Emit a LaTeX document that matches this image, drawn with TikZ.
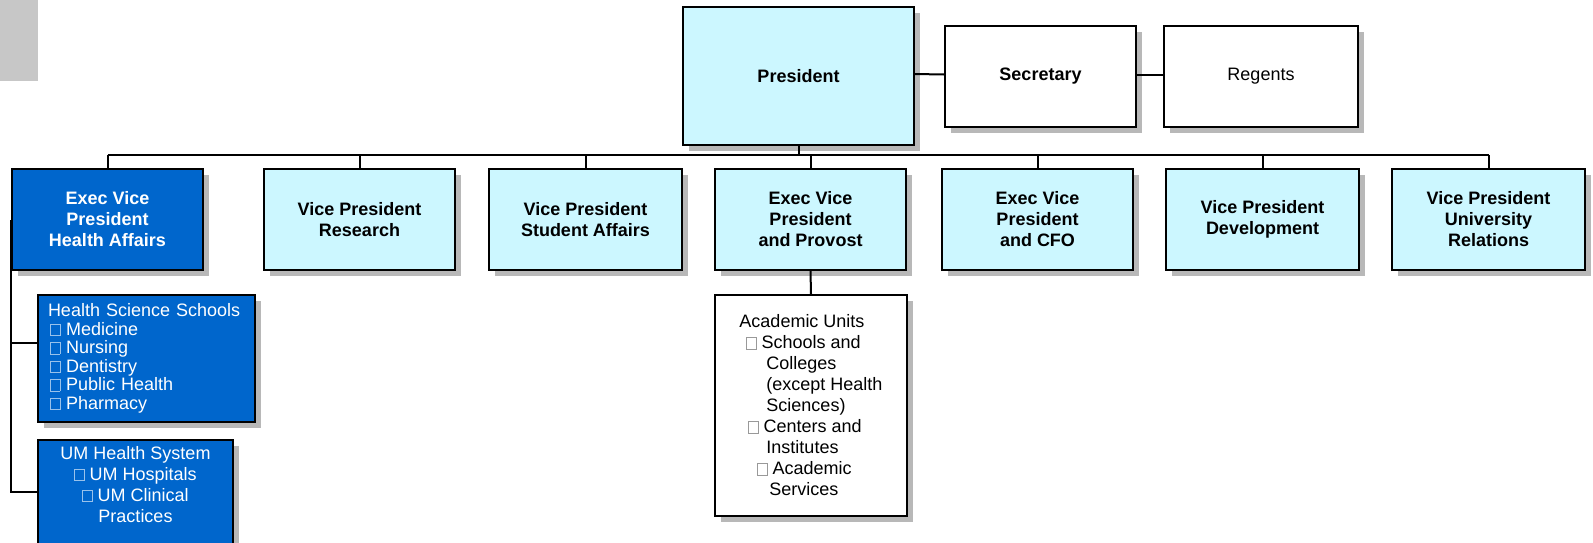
\documentclass[tikz,border=0pt]{standalone}
\usepackage{fontspec}
\setmainfont{Liberation Sans}
\usetikzlibrary{shadows}
\definecolor{vpcyan}{RGB}{204,247,255}
\definecolor{hsblue}{RGB}{0,102,204}
\newcommand{\sqbullet}[1][black!40]{\textcolor{#1}{\setlength{\fboxsep}{0pt}\setlength{\fboxrule}{0.6pt}\fbox{\rule{0pt}{0.62em}\hspace{0.5em}}}}

\begin{document}
\begin{tikzpicture}[x=1pt,y=-1pt]
        \tikzset{orgbox/.style={draw, line width=1.6pt, minimum width=191pt, minimum height=101pt,
                align=center, inner sep=0pt, font=\fontsize{18}{21}\selectfont\bfseries,
                drop shadow={shadow xshift=6pt, shadow yshift=-6pt, fill=black!28, opacity=1}},
            vpbox/.style={orgbox, fill=vpcyan},
            plainbox/.style={orgbox, fill=white},
            healthbox/.style={orgbox, fill=hsblue, text=white},
            plaintext/.style={font=\fontsize{18}{21}\selectfont},
            orgline/.style={line width=2pt}}
        \useasboundingbox (0,0) rectangle (1593,542);
        \fill[black!22] (0,0) rectangle (38,81);
        \node[vpbox, minimum width=231pt, minimum height=138pt] (pres) at (798.5,76) {President};
        \node[plainbox] (sec) at (1040.5,76.5) {Secretary};
        \node[plainbox, plaintext, minimum width=194pt] (reg) at (1261,76.5) {Regents};
        \node[healthbox] (evpha) at (107.5,219.5) {Exec Vice\\President\\Health Affairs};
        \node[vpbox] (vpres) at (359.5,219.5) {Vice President\\Research};
        \node[vpbox, minimum width=193pt] (vpsa) at (585.5,219.5) {Vice President\\Student Affairs};
        \node[vpbox] (evpp) at (810.5,219.5) {Exec Vice\\President\\and Provost};
        \node[vpbox] (evpcfo) at (1037.5,219.5) {Exec Vice\\President\\and CFO};
        \node[vpbox, minimum width=193pt] (vpdev) at (1262.5,219.5) {Vice President\\Development};
        \node[vpbox, minimum width=193pt] (vpur) at (1488.5,219.5) {Vice President\\University\\Relations};
        \node[plainbox, plaintext, minimum width=192pt, minimum height=221pt, align=left] (acad) at (811,405.5)
            {Academic Units\\\hspace*{7pt}\sqbullet\ Schools and\\\hspace*{27pt}Colleges\\
             \hspace*{27pt}(except Health\\\hspace*{27pt}Sciences)\\\hspace*{9pt}\sqbullet\ Centers and\\
             \hspace*{27pt}Institutes\\\hspace*{18pt}\sqbullet\ Academic\\\hspace*{30pt}Services};
        \node[healthbox, font=\fontsize{18}{18.5}\selectfont, minimum width=217pt, minimum height=127pt,
            text width=197pt, align=left] (hss) at (146.5,358.5)
            {Health Science Schools\\\hspace*{2pt}\sqbullet[hsblue!40!white]\ Medicine\\
             \hspace*{2pt}\sqbullet[hsblue!40!white]\ Nursing\\\hspace*{2pt}\sqbullet[hsblue!40!white]\ Dentistry\\
             \hspace*{2pt}\sqbullet[hsblue!40!white]\ Public Health\\\hspace*{2pt}\sqbullet[hsblue!40!white]\ Pharmacy};
        \node[healthbox, minimum width=195pt, minimum height=104pt,
            label={[anchor=north, yshift=-7pt, inner sep=0pt, align=center, text=white, plaintext]north:{UM Health System\\
                \sqbullet[hsblue!40!white]\ UM Hospitals\\\sqbullet[hsblue!40!white]\ UM Clinical\\Practices}}]
            (umhs) at (135.5,492) {};
        \coordinate (bus) at (0,154.5);
        \draw[orgline] ([yshift=2pt]pres.east) -- ([yshift=2pt]sec.west);
        \draw[orgline] ([yshift=2pt]sec.east) -- ([yshift=2pt]reg.west);
        \draw[orgline] (pres.south) -- (pres.south |- bus);
        \draw[orgline] (evpha.north |- bus) -- (vpur.north |- bus);
        \foreach \n in {evpha,vpres,vpsa,evpp,evpcfo,vpdev,vpur}
            \draw[orgline] (\n.north) -- (\n.north |- bus);
        \draw[orgline] (evpp.south) -- (acad.north);
        \draw[orgline] (evpha.west) |- ([yshift=16pt]hss.west);
        \draw[orgline] (evpha.west) |- (umhs.west);
    \end{tikzpicture}
\end{document}
